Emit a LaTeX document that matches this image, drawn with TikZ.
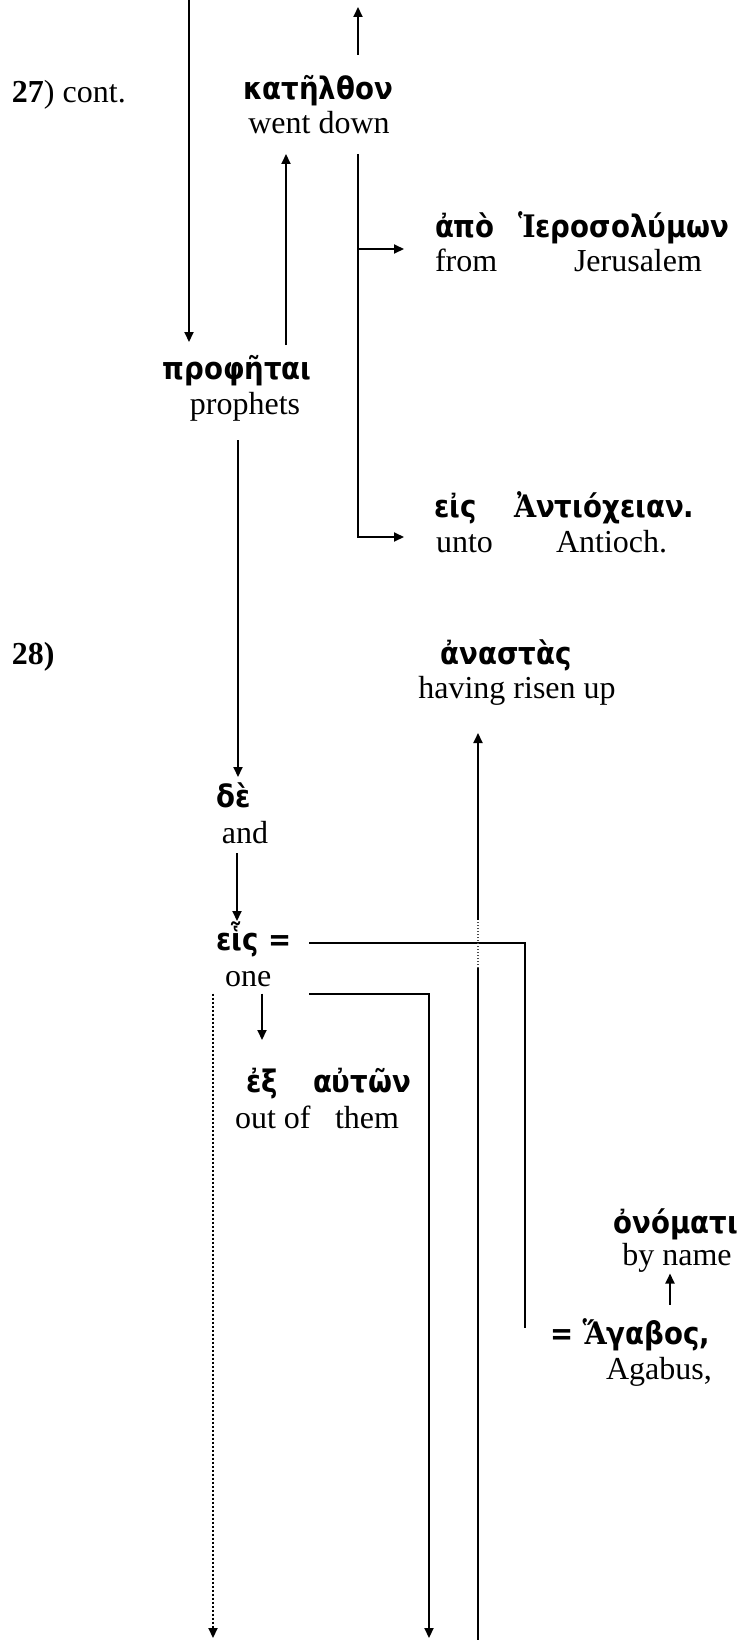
\documentclass[tikz,border=0pt]{standalone}
\usepackage{fontspec}
\setmainfont{Liberation Serif}
\newfontfamily\grkf{DejaVu Sans}[FakeStretch=0.89]
\newfontfamily\grkcap{DejaVu Serif}[FakeStretch=0.92]
\usetikzlibrary{arrows.meta}
\begin{document}
\begin{tikzpicture}[x=1pt,y=-1pt,
  txt/.style={inner sep=0pt,outer sep=0pt,text height=22pt,text depth=7pt,font=\fontsize{32}{38}\selectfont},
  gk/.style={txt,font=\fontsize{31}{38}\selectfont\grkf\bfseries},
  conn/.style={line width=2pt},
  arr/.style={conn,-{Triangle[length=10pt,width=9pt]}},
  dotarr/.style={arr,dash pattern=on 2pt off 2pt},
  faint/.style={line width=1.2pt,dash pattern=on 1.5pt off 1.5pt,black!70}]
\useasboundingbox (0,0) rectangle (746,1640);
% text
\node[txt,anchor=west] (n27) at (12,95) {\textbf{27}) cont.};
\node[gk] (kat) at (318,92) {κατῆλθον};
\node[txt] (wentdown) at (319,126) {went down};
\node[gk] (prof) at (237,372) {προφῆται};
\node[txt] (prophets) at (245,407) {prophets};
\node[gk,anchor=west] (apo) at (435,230) {ἀπὸ};
\node[gk,anchor=west] (hier) at (518,230) {{\grkcap Ἱ}εροσολύμων};
\node[txt,anchor=west] (from) at (435,264) {from};
\node[txt] (jer) at (638,264) {Jerusalem};
\node[gk,anchor=west] (eis) at (434,510) {εἰς};
\node[gk,anchor=west] (ant) at (514,510) {{\grkcap Ἀ}ντιόχειαν.};
\node[txt,anchor=west] (unto) at (436,545) {unto};
\node[txt,anchor=west] (antioch) at (556,545) {Antioch.};
\node[txt,anchor=west] (n28) at (12,657) {\textbf{28)}};
\node[gk] (anastas) at (506,657) {ἀναστὰς};
\node[txt] (risen) at (517,691) {having risen up};
\node[gk] (de) at (234,800) {δὲ};
\node[txt] (and) at (245,836) {and};
\node[gk,anchor=west] (heis) at (216,943) {εἷς =};
\node[txt,anchor=west] (one) at (225,979) {one};
\node[gk,anchor=west] (ex) at (246,1085) {ἐξ};
\node[gk,anchor=west] (auton) at (313,1085) {αὐτῶν};
\node[txt,anchor=west] (outof) at (235,1121) {out of};
\node[txt,anchor=west] (them) at (335,1121) {them};
\node[gk] (onomati) at (676,1226) {ὀνόματι};
\node[txt] (byname) at (677,1258) {by name};
\node[gk,anchor=west] (agabos) at (550,1337) {= {\grkcap Ἅ}γαβος,};
\node[txt] (agabus) at (659,1372) {Agabus,};
% coordinates
\coordinate (top1) at (189,0);
\coordinate (xB) at (286,0);
\coordinate (up1) at (358,7);
\coordinate (c2) at (358,249);
\coordinate (c1) at (358,537);
\coordinate (xD) at (238,0);
\coordinate (xE) at (237,0);
\coordinate (c3) at (525,943);
\coordinate (b1) at (213,1638);
\coordinate (b2) at (429,1638);
\coordinate (xF) at (262,0);
\coordinate (b3) at (478,1640);
\coordinate (d1) at (478,968);
\coordinate (d2) at (478,920);
\coordinate (xG) at (670,0);
% connectors
\draw[arr,shorten >=15.5pt] (top1) -- (top1 |- prof.north);
\draw[arr,shorten <=12.5pt,shorten >=13.5pt] (prof.north -| xB) -- (wentdown.south -| xB);
\draw[arr,shorten <=22.5pt] (kat.north -| up1) -- (up1);
\draw[arr,shorten <=13.5pt,shorten >=32pt] (wentdown.south -| c1) -- (c1) -- (c1 -| unto.west);
\draw[arr,shorten >=31pt] (c2) -- (c2 -| from.west);
\draw[arr,shorten <=18.5pt,shorten >=8.5pt] (prophets.south -| xD) -- (de.north -| xD);
\draw[arr,shorten <=2.5pt,shorten >=7.5pt] (and.south -| xE) -- (heis.north -| xE);
\draw[conn,shorten <=93pt,shorten >=9pt] (heis.west) -- (c3) -- (c3 |- agabos.west);
\draw[arr,shorten <=84pt] (one.south west) -- (b2 |- one.south west) -- (b2);
\draw[dotarr] (one.south west -| b1) -- (b1);
\draw[arr,shorten >=30.5pt] (one.south -| xF) -- (ex.north -| xF);
\draw[conn] (b3) -- (d1);
\draw[faint] (d1) -- (d2);
\draw[arr,shorten >=27.5pt] (d2) -- (risen.south -| d2);
\draw[arr,shorten <=18pt,shorten >=1pt] (agabos.north -| xG) -- (byname.south -| xG);
\end{tikzpicture}
\end{document}
